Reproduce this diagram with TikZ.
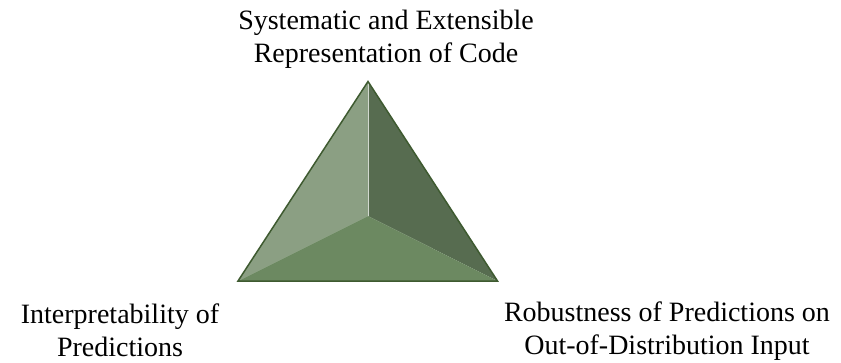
\documentclass[tikz,border=0pt]{standalone}
\usepackage{fontspec}
\setmainfont{Liberation Serif}
\definecolor{faceL}{RGB}{139,159,131}
\definecolor{faceR}{RGB}{87,108,80}
\definecolor{faceB}{RGB}{108,137,97}
\definecolor{edge}{RGB}{62,90,48}
\tikzset{
  lbl/.style={font=\fontsize{28}{32.5}\selectfont, align=center, inner sep=0pt, anchor=north},
  face/.style={draw=none}
}
\begin{document}
\begin{tikzpicture}[x=1pt,y=-1pt]
\useasboundingbox (0,0) rectangle (841,362);
\fill[white] (0,0) rectangle (841,362);
\coordinate (A) at (368,81.5);
\coordinate (B) at (238,281);
\coordinate (C) at (497.5,281);
\coordinate (O) at (368,216);
\fill[faceL] (A) -- (B) -- (O) -- cycle;
\fill[faceR] (A) -- (O) -- (C) -- cycle;
\fill[faceB] (B) -- (O) -- (C) -- cycle;
\draw[white!60!faceL, line width=0.6pt] (A) -- (O);
\draw[edge, line width=1.5pt, line join=miter] (A) -- (B) -- (C) -- cycle;
\node[lbl] (top) at (386,10) {Systematic and Extensible\\Representation of Code};
\node[lbl] (left) at (120,304) {Interpretability of\\Predictions};
\node[lbl] (right) at (667,302) {Robustness of Predictions on\\Out-of-Distribution Input};
\end{tikzpicture}
\end{document}
